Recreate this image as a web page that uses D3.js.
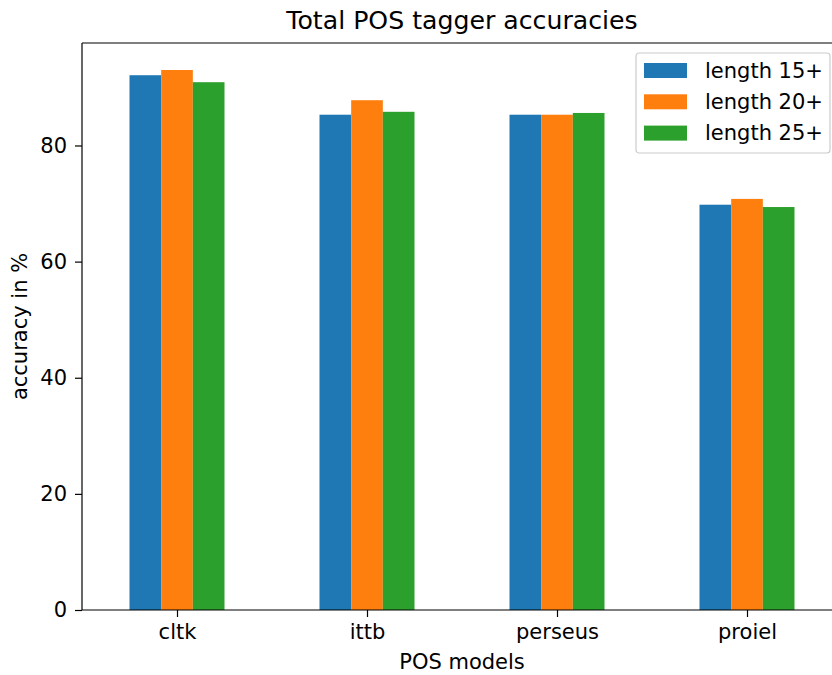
<!DOCTYPE html>
<html>
<head>
<meta charset="utf-8">
<script src="https://cdn.jsdelivr.net/npm/d3@7"></script>
<style>
  html, body { margin: 0; padding: 0; background: #fff; }
  svg { display: block; font-family: "DejaVu Sans", sans-serif; }
</style>
</head>
<body>
<svg id="chart" width="832" height="675"></svg>
<script>
// POS tagger accuracy (%) by model and minimum sentence length
const models = ["cltk", "ittb", "perseus", "proiel"];
const seriesNames = ["length 15+", "length 20+", "length 25+"];
const len15 = [92.1, 85.3, 85.3, 69.8];
const len20 = [93.0, 87.8, 85.3, 70.8];
const len25 = [90.9, 85.8, 85.6, 69.4];
const yTicks = [0, 20, 40, 60, 80];
const colors = ["#1f77b4", "#ff7f0e", "#2ca02c"];

const seriesValues = [len15, len20, len25];

const svg = d3.select("#chart");
const plot = { left: 82, right: 842, top: 43, bottom: 610 };
const fs = 21;

// Category axis spans -0.5..n-0.5, bars occupy half of each slot
const x = d3.scaleLinear().domain([-0.5, models.length - 0.5]).range([plot.left, plot.right]);
const yMax = d3.max(seriesValues.flat()) * 1.05;
const y = d3.scaleLinear().domain([0, yMax]).range([plot.bottom, plot.top]);

const groupWidth = 0.5;
const barW = groupWidth / seriesNames.length;

seriesValues.forEach((vals, si) => {
  svg.append("g").selectAll("rect")
    .data(vals)
    .join("rect")
    .attr("x", (d, i) => x(i - groupWidth / 2 + si * barW))
    .attr("width", x(barW) - x(0))
    .attr("y", d => y(d))
    .attr("height", d => y(0) - y(d))
    .attr("fill", colors[si]);
});

// Axes frame
const frame = svg.append("g").attr("fill", "none").attr("stroke", "#000").attr("stroke-width", 1.2);
frame.append("line").attr("x1", plot.left).attr("x2", plot.right).attr("y1", plot.top).attr("y2", plot.top);
frame.append("line").attr("x1", plot.left).attr("x2", plot.right).attr("y1", plot.bottom).attr("y2", plot.bottom);
frame.append("line").attr("x1", plot.left).attr("x2", plot.left).attr("y1", plot.top).attr("y2", plot.bottom);
frame.append("line").attr("x1", plot.right).attr("x2", plot.right).attr("y1", plot.top).attr("y2", plot.bottom);

// Y axis
const yAxis = d3.axisLeft(y).tickValues(yTicks).tickSize(7).tickPadding(8).tickFormat(d3.format("d"));
const gy = svg.append("g").attr("transform", `translate(${plot.left},0)`).call(yAxis);
gy.select(".domain").remove();
gy.selectAll("text").attr("font-size", fs).attr("font-family", "DejaVu Sans").attr("fill", "#000");
gy.selectAll("line").attr("stroke", "#000").attr("stroke-width", 1.2);

// X axis
const xAxis = d3.axisBottom(x).tickValues(d3.range(models.length)).tickSize(7).tickPadding(7)
  .tickFormat(i => models[i]);
const gx = svg.append("g").attr("transform", `translate(0,${plot.bottom})`).call(xAxis);
gx.select(".domain").remove();
gx.selectAll("text").attr("font-size", fs).attr("font-family", "DejaVu Sans").attr("fill", "#000");
gx.selectAll("line").attr("stroke", "#000").attr("stroke-width", 1.2);

// Titles
svg.append("text").attr("x", (plot.left + plot.right) / 2).attr("y", 29)
  .attr("text-anchor", "middle").attr("font-size", 25.2).attr("fill", "#000")
  .text("Total POS tagger accuracies");
svg.append("text").attr("x", (plot.left + plot.right) / 2).attr("y", 669)
  .attr("text-anchor", "middle").attr("font-size", fs).attr("fill", "#000")
  .text("POS models");
svg.append("text").attr("transform", `translate(27,${(plot.top + plot.bottom) / 2}) rotate(-90)`)
  .attr("text-anchor", "middle").attr("font-size", fs).attr("fill", "#000")
  .text("accuracy in %");

// Legend
const legend = svg.append("g").attr("transform", "translate(636,53)");
legend.append("rect").attr("x", 0).attr("y", 0).attr("width", 194).attr("height", 100)
  .attr("rx", 3).attr("fill", "#fff").attr("fill-opacity", 0.8)
  .attr("stroke", "#cccccc").attr("stroke-width", 1.2);
seriesNames.forEach((name, i) => {
  const row = legend.append("g").attr("transform", `translate(0,${10 + i * 31.3})`);
  row.append("rect").attr("x", 8).attr("y", 0).attr("width", 43).attr("height", 15).attr("fill", colors[i]);
  row.append("text").attr("x", 69).attr("y", 14.5).attr("font-size", fs).attr("fill", "#000").text(name);
});
</script>
</body>
</html>
